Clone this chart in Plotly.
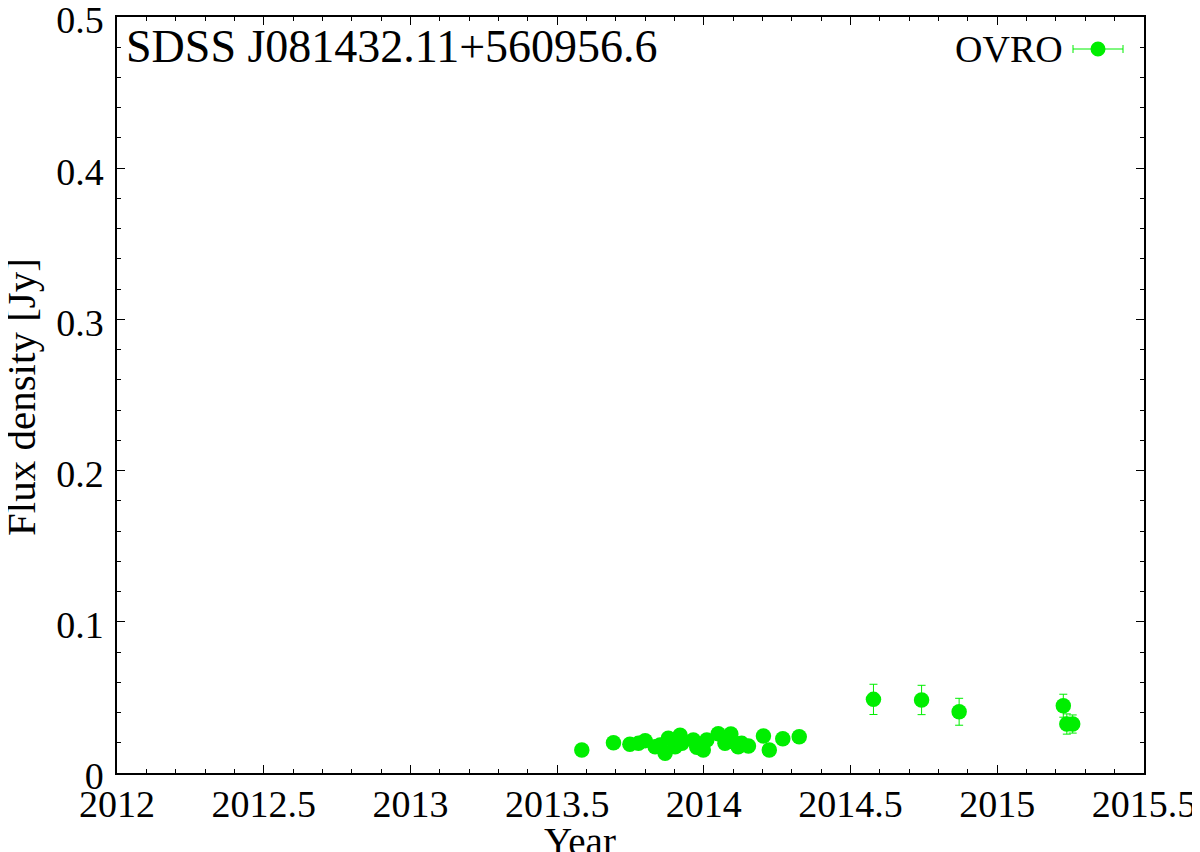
import plotly.graph_objects as go

# OVRO 15 GHz light curve, SDSS J081432.11+560956.6
year = [2013.584, 2013.692, 2013.748, 2013.777, 2013.800, 2013.834, 2013.851,
        2013.868, 2013.879, 2013.902, 2013.919, 2013.925, 2013.964, 2013.976,
        2013.998, 2014.010, 2014.049, 2014.072, 2014.092, 2014.100, 2014.117,
        2014.129, 2014.152, 2014.203, 2014.223, 2014.269, 2014.325,
        2014.578, 2014.742, 2014.870, 2015.225, 2015.237, 2015.257]
flux = [0.0152, 0.0200, 0.0190, 0.0196, 0.0214, 0.0174, 0.0185,
        0.0130, 0.0230, 0.0174, 0.0250, 0.0196, 0.0218, 0.0170,
        0.0152, 0.0218, 0.0260, 0.0196, 0.0258, 0.0207, 0.0174,
        0.0196, 0.0178, 0.0245, 0.0152, 0.0227, 0.0240,
        0.0487, 0.0483, 0.0405, 0.0445, 0.0324, 0.0324]
flux_err = [0.0020, 0.0020, 0.0020, 0.0020, 0.0020, 0.0020, 0.0020,
            0.0020, 0.0020, 0.0020, 0.0020, 0.0020, 0.0020, 0.0020,
            0.0020, 0.0020, 0.0020, 0.0020, 0.0020, 0.0020, 0.0020,
            0.0020, 0.0020, 0.0020, 0.0020, 0.0020, 0.0020,
            0.0100, 0.0097, 0.0089, 0.0076, 0.0067, 0.0060]

x_range = [2012, 2015.5]
y_range = [0, 0.5]
x_ticks = [2012, 2012.5, 2013, 2013.5, 2014, 2014.5, 2015, 2015.5]
x_ticklabels = ["2012", "2012.5", "2013", "2013.5", "2014", "2014.5", "2015", "2015.5"]
y_ticks = [0, 0.1, 0.2, 0.3, 0.4, 0.5]
y_ticklabels = ["0", "0.1", "0.2", "0.3", "0.4", "0.5"]

GREEN = "#00ee00"
FONT = "Liberation Serif"

# page body has an 8px default margin; size the figure to fill the visible window
OFF = 8
W, H = 1200 - OFF, 852 - OFF
PL, PT, PR, PB = 117, 17, 1144, 773          # plot area in window pixels
L, T = PL - OFF, PT - OFF
R, B = W - (PR - OFF), H - (PB - OFF)
pw, ph = PR - PL, PB - PT

def px(xp):
    return (xp - PL) / pw

def py(yp):
    return (PB - yp) / ph

fig = go.Figure()
fig.add_trace(go.Scatter(
    x=year, y=flux, mode="markers", name="OVRO",
    marker=dict(color=GREEN, size=15.5, line=dict(width=0)),
    error_y=dict(type="data", array=flux_err, visible=True,
                 color=GREEN, thickness=1, width=4),
    showlegend=False,
))

axis_common = dict(
    showgrid=False, zeroline=False, showline=True, linecolor="black",
    linewidth=1.5, mirror="ticks", ticks="inside", ticklen=8, tickwidth=1,
    tickcolor="black", tickfont=dict(family=FONT, size=38, color="black"),
    ticklabeloverflow="allow", automargin=False,
)
fig.update_xaxes(range=x_range, tickvals=x_ticks, ticktext=x_ticklabels,
                 minor=dict(dtick=0.1, ticklen=4, tickwidth=1, ticks="inside",
                            tickcolor="black", showgrid=False),
                 ticklabelstandoff=-3, **axis_common)
fig.update_yaxes(range=y_range, tickvals=y_ticks, ticktext=y_ticklabels,
                 minor=dict(dtick=0.02, ticklen=4, tickwidth=1, ticks="inside",
                            tickcolor="black", showgrid=False),
                 ticklabelstandoff=4, ticklabelshift=3, **axis_common)

annotations = [
    dict(text="SDSS J081432.11+560956.6", x=px(124), y=py(47), xref="paper", yref="paper",
         xanchor="left", yanchor="middle", showarrow=False,
         font=dict(family=FONT, size=46, color="black")),
    dict(text="OVRO", x=px(1065), y=py(49), xref="paper", yref="paper",
         xanchor="right", yanchor="middle", showarrow=False,
         font=dict(family=FONT, size=38, color="black")),
    dict(text="Year", x=px(580), y=py(818), xref="paper", yref="paper",
         xanchor="center", yanchor="top", showarrow=False,
         font=dict(family=FONT, size=39, color="black")),
    dict(text="Flux density [Jy]", x=px(21), y=py(397), xref="paper", yref="paper",
         xanchor="center", yanchor="middle", showarrow=False, textangle=-90,
         font=dict(family=FONT, size=41, color="black")),
]

# legend key (gnuplot style: errorbar line with marker)
ky = py(49)
shapes = [
    dict(type="line", xref="paper", yref="paper", x0=px(1073), x1=px(1123), y0=ky, y1=ky,
         line=dict(color=GREEN, width=1)),
    dict(type="line", xref="paper", yref="paper", x0=px(1073), x1=px(1073),
         y0=py(45), y1=py(53), line=dict(color=GREEN, width=1)),
    dict(type="line", xref="paper", yref="paper", x0=px(1123), x1=px(1123),
         y0=py(45), y1=py(53), line=dict(color=GREEN, width=1)),
    dict(type="circle", xref="paper", yref="paper", xsizemode="pixel", ysizemode="pixel",
         xanchor=px(1098), yanchor=ky, x0=-7.5, x1=7.5, y0=-7.5, y1=7.5,
         fillcolor=GREEN, line=dict(width=0)),
]

fig.update_layout(
    width=W, height=H,
    margin=dict(l=L, r=R, t=T, b=B, autoexpand=False),
    paper_bgcolor="white", plot_bgcolor="white",
    annotations=annotations, shapes=shapes,
    showlegend=False,
)

fig.write_html("out.html")
